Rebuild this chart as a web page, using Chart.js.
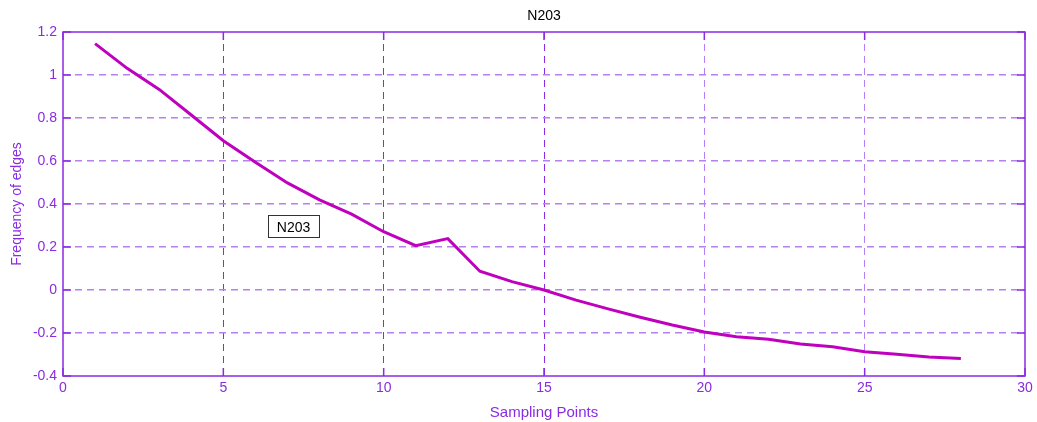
<!DOCTYPE html>
<html>
<head>
<meta charset="utf-8">
<script src="https://cdn.jsdelivr.net/npm/chart.js@4"></script>
<style>
  html, body { margin: 0; padding: 0; background: #fff; }
  #wrap { width: 1037px; height: 422px; }
</style>
</head>
<body>
<div id="wrap"><canvas id="chart"></canvas></div>
<script>
// sampling points and read-off values
const samplePoints = [1, 2, 3, 4, 5, 6, 7, 8, 9, 10, 11, 12, 13, 14, 15, 16, 17, 18, 19, 20, 21, 22, 23, 24, 25, 26, 27, 28];
const edgeFreq = [1.146, 1.031, 0.933, 0.814, 0.694, 0.594, 0.498, 0.419, 0.353, 0.271, 0.206, 0.239, 0.087, 0.039, 0.0,
  -0.047, -0.088, -0.127, -0.163, -0.195, -0.217, -0.229, -0.251, -0.264, -0.287, -0.299, -0.312, -0.319];
const xTicks = [0, 5, 10, 15, 20, 25, 30];
const yTicks = [-0.4, -0.2, 0, 0.2, 0.4, 0.6, 0.8, 1, 1.2];
const seriesName = 'N203';

const axisPurple = '#8a2be2';
const gridPurple = '#b580f0';
const lineColor = '#bf00bf';

// box, title, inward ticks and the small legend box, like the matlab figure
const framePlugin = {
  id: 'frame',
  afterDraw(chart) {
    const { ctx, chartArea: a, scales } = chart;
    ctx.save();
    ctx.strokeStyle = axisPurple;
    ctx.lineWidth = 1.5;
    ctx.strokeRect(a.left, a.top, a.right - a.left, a.bottom - a.top);

    // inward tick marks
    ctx.beginPath();
    yTicks.forEach(v => {
      const y = scales.y.getPixelForValue(v);
      ctx.moveTo(a.left, y); ctx.lineTo(a.left + 8, y);
      ctx.moveTo(a.right, y); ctx.lineTo(a.right - 8, y);
    });
    xTicks.forEach(v => {
      const x = scales.x.getPixelForValue(v);
      ctx.moveTo(x, a.bottom); ctx.lineTo(x, a.bottom - 8);
      ctx.moveTo(x, a.top); ctx.lineTo(x, a.top + 8);
    });
    ctx.stroke();

    // title
    ctx.fillStyle = '#000';
    ctx.font = '14px "Liberation Sans", Arial, sans-serif';
    ctx.textAlign = 'center';
    ctx.textBaseline = 'middle';
    ctx.fillText(seriesName, (a.left + a.right) / 2, 16);

    // legend box
    const bx = a.left + 205, by = a.top + 183, bw = 51, bh = 22;
    ctx.fillStyle = '#fff';
    ctx.fillRect(bx, by, bw, bh);
    ctx.strokeStyle = '#333';
    ctx.lineWidth = 1;
    ctx.strokeRect(bx + 0.5, by + 0.5, bw, bh);
    ctx.fillStyle = '#000';
    ctx.fillText(seriesName, bx + bw / 2, by + bh / 2 + 2);
    ctx.restore();
  }
};

const tickFont = { family: '"Liberation Sans", Arial, sans-serif', size: 14 };
const titleFont = { family: '"Liberation Sans", Arial, sans-serif', size: 15 };

new Chart(document.getElementById('chart'), {
  type: 'line',
  data: {
    datasets: [{
      label: seriesName,
      data: samplePoints.map((x, i) => ({ x, y: edgeFreq[i] })),
      borderColor: lineColor,
      borderWidth: 3,
      pointRadius: 0,
      tension: 0,
      fill: false
    }]
  },
  options: {
    responsive: true,
    maintainAspectRatio: false,
    animation: false,
    layout: { padding: { top: 32, right: 12, left: 9, bottom: 0 } },
    plugins: {
      legend: { display: false },
      title: { display: false },
      tooltip: { enabled: false }
    },
    scales: {
      x: {
        type: 'linear',
        min: 0,
        max: 30,
        afterBuildTicks: s => { s.ticks = xTicks.map(v => ({ value: v })); },
        afterFit: s => { s.height = 46; },
        ticks: { color: axisPurple, font: tickFont, padding: 4, maxRotation: 0 },
        grid: {
          color: c => (c.tick && c.tick.value > 0 && c.tick.value < 30) ? (c.tick.value <= 15 ? axisPurple : gridPurple) : 'rgba(0,0,0,0)',
          lineWidth: 1,
          drawTicks: false
        },
        border: { display: false, dash: [7, 5] },
        title: {
          display: true,
          text: 'Sampling Points',
          color: axisPurple,
          font: titleFont,
          padding: { top: 1, bottom: 0 }
        }
      },
      y: {
        min: -0.4,
        max: 1.2,
        afterBuildTicks: s => { s.ticks = yTicks.map(v => ({ value: v })); },
        afterFit: s => { s.width = 54; },
        ticks: {
          color: axisPurple,
          font: tickFont,
          padding: 6,
          callback: v => String(Math.round(v * 10) / 10)
        },
        grid: {
          color: c => (c.tick && c.tick.value > -0.4 && c.tick.value < 1.2) ? gridPurple : 'rgba(0,0,0,0)',
          lineWidth: 1.5,
          drawTicks: false
        },
        border: { display: false, dash: [7, 5] },
        title: {
          display: true,
          text: 'Frequency of edges',
          color: axisPurple,
          font: tickFont,
          padding: { top: 0, bottom: 2 }
        }
      }
    }
  },
  plugins: [framePlugin]
});
</script>
</body>
</html>
